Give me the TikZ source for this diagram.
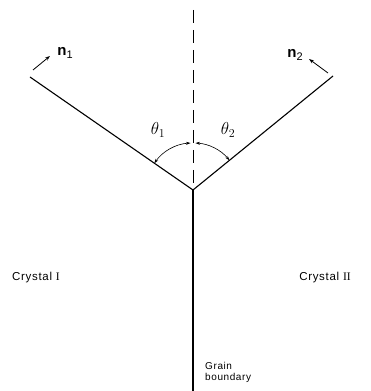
\documentclass[tikz,border=0pt]{standalone}
\usepackage{fontspec}
\setmainfont{Liberation Sans}
\newfontfamily\numfont{Liberation Serif}
\newfontfamily\spaced[LetterSpace=6]{Liberation Sans}
\usetikzlibrary{arrows.meta}
\begin{document}
\begin{tikzpicture}[x=1pt,y=1pt,
  boundary/.style={line width=1.1pt},
  vec/.style={line width=0.8pt,-{Stealth[length=5pt,width=3.5pt]}},
  anglearc/.style={line width=0.6pt,{Stealth[length=4.5pt,width=3pt]}-{Stealth[length=4.5pt,width=3pt]}},
  lbl/.style={inner sep=0pt,font=\fontsize{11.5}{13}\selectfont\spaced},
  anglbl/.style={inner sep=0pt,font=\fontsize{18}{20}\selectfont}]
\useasboundingbox (0,0) rectangle (370,391);
\coordinate (J) at (193,201);
\coordinate (L) at (30,314);
\coordinate (R) at (333,315);
\coordinate (B) at (193,0);
\coordinate (T) at (193,381);
\coordinate (n1s) at (33,321);
\coordinate (n1e) at (50,335);
\coordinate (n2s) at (328,318);
\coordinate (n2e) at (309,332);
\draw[boundary] (L) -- (J) -- (R);
\draw[boundary] (J) -- (B);
\draw[line width=0.7pt,dash pattern=on 13pt off 7pt] (T) -- (J);
\draw[vec] (n1s) -- (n1e);
\draw[vec] (n2s) -- (n2e);
\node[inner sep=0pt,font=\fontsize{15}{17}\selectfont] (n1) at (65,338) {\textbf{n}\raisebox{-2.5pt}{\fontsize{11}{12}\selectfont 1}};
\node[inner sep=0pt,font=\fontsize{15}{17}\selectfont] (n2) at (295,336) {\textbf{n}\raisebox{-2.5pt}{\fontsize{11}{12}\selectfont 2}};
\draw[anglearc] ([shift={(145.3:47)}]J) arc[start angle=145.3, end angle=93, radius=47];
\draw[anglearc] ([shift={(87:47)}]J) arc[start angle=87, end angle=39.2, radius=47];
\node[anglbl] (t1) at (158,261) {$\theta_1$};
\node[anglbl] (t2) at (228,261) {$\theta_2$};
\node[lbl] (c1) at (36,113) {Crystal {\numfont I}};
\node[lbl] (c2) at (325,113) {Crystal {\numfont II}};
\node[lbl,anchor=north west,align=left,font=\fontsize{10}{11.5}\selectfont\spaced] (gb) at (205,29) {Grain\\boundary};
\end{tikzpicture}
\end{document}
